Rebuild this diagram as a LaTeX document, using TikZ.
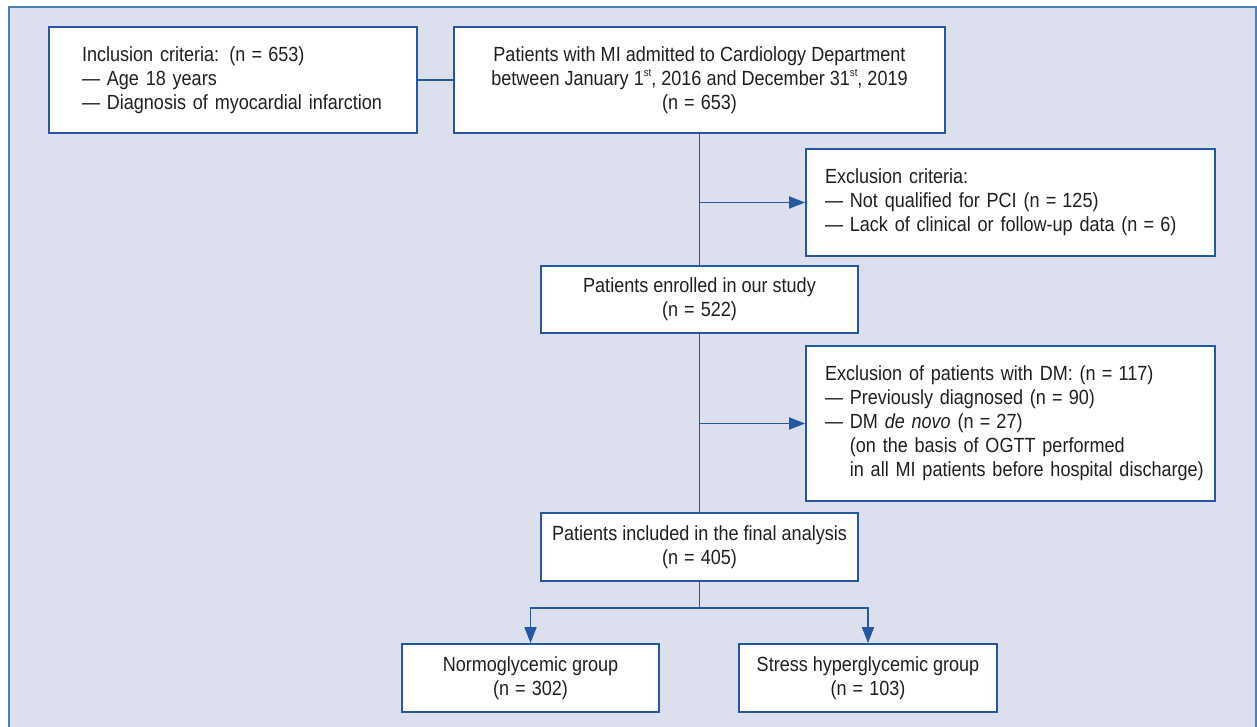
\documentclass[tikz,border=0pt]{standalone}
\usepackage{fontspec}
\setmainfont[FakeStretch=0.88]{Liberation Sans}
\usetikzlibrary{arrows.meta}
\definecolor{panelbg}{HTML}{DCE0EE}
\definecolor{panelline}{HTML}{4A80B8}
\definecolor{boxline}{HTML}{2458A0}
\definecolor{txt}{HTML}{231F20}
\newcommand{\mylin}[1]{\mbox{#1}}
\newcommand{\myeq}{\hspace{0.3em}=\hspace{0.3em}}
\newcommand{\mysup}[1]{\raisebox{0.45em}{\fontsize{11}{11}\selectfont #1}}
\begin{document}
\begin{tikzpicture}[x=1pt,y=-1pt,
  box/.style={draw=boxline, line width=1.8pt, fill=white, text=txt,
    font=\fontsize{20.5}{24}\selectfont, inner sep=0pt, align=center},
  lbox/.style={box, align=left},
  conn/.style={draw=boxline, line width=1.8pt},
  arr/.style={conn, -{Triangle[length=16pt,width=12pt]}}]
\useasboundingbox (0,0) rectangle (1257,727);
\fill[panelbg] (9,7) rectangle (1256,727);
\draw[panelline, line width=2.2pt] (9,730) -- (9,7) -- (1256,7) -- (1256,730);

\node[lbox, minimum width=368pt, minimum height=106pt, text width=302pt] (inc) at (233,80)
  {\mylin{Inclusion criteria: (n\myeq 653)}\\
   \mylin{— Age 18 years}\\
   \mylin{— Diagnosis of myocardial infarction}};
\node[box, minimum width=491pt, minimum height=106pt] (mi) at (699.5,80)
  {Patients with MI admitted to Cardiology Department\\
   between January 1\mysup{st}, 2016 and December 31\mysup{st}, 2019\\
   (n\myeq 653)};
\node[lbox, minimum width=409pt, minimum height=107pt, text width=371pt] (exc) at (1010.5,202.5)
  {\mylin{Exclusion criteria:}\\
   \mylin{— Not qualified for PCI (n\myeq 125)}\\
   \mylin{— Lack of clinical or follow-up data (n\myeq 6)}};
\node[box, minimum width=317pt, minimum height=67pt] (enr) at (699.5,299.5)
  {Patients enrolled in our study\\(n\myeq 522)};
\node[lbox, minimum width=409pt, minimum height=155pt, text width=371pt] (dm) at (1010.5,423.5)
  {\mylin{Exclusion of patients with DM: (n\myeq 117)}\\
   \mylin{— Previously diagnosed (n\myeq 90)}\\
   \mylin{— DM \textit{de novo} (n\myeq 27)}\\
   \mylin{\hphantom{— }(on the basis of OGTT performed}\\
   \mylin{\hphantom{— }in all MI patients before hospital discharge)}};
\node[box, minimum width=317pt, minimum height=68pt] (fin) at (699.5,547)
  {Patients included in the final analysis\\(n\myeq 405)};
\node[box, minimum width=257pt, minimum height=68pt] (normo) at (530.5,678)
  {Normoglycemic group\\(n\myeq 302)};
\node[box, minimum width=258pt, minimum height=68pt] (stress) at (868,678)
  {Stress hyperglycemic group\\(n\myeq 103)};

\coordinate (split) at (699.5,608);
\draw[conn] (inc.east) -- (mi.west);
\draw[conn] (mi.south) -- (enr.north);
\draw[arr] (mi.south |- exc.west) -- (exc.west);
\draw[conn] (enr.south) -- (fin.north);
\draw[arr] (enr.south |- dm.west) -- (dm.west);
\draw[conn] (fin.south) -- (split);
\draw[arr] (split) -| (normo.north);
\draw[arr] (split) -| (stress.north);
\end{tikzpicture}
\end{document}
